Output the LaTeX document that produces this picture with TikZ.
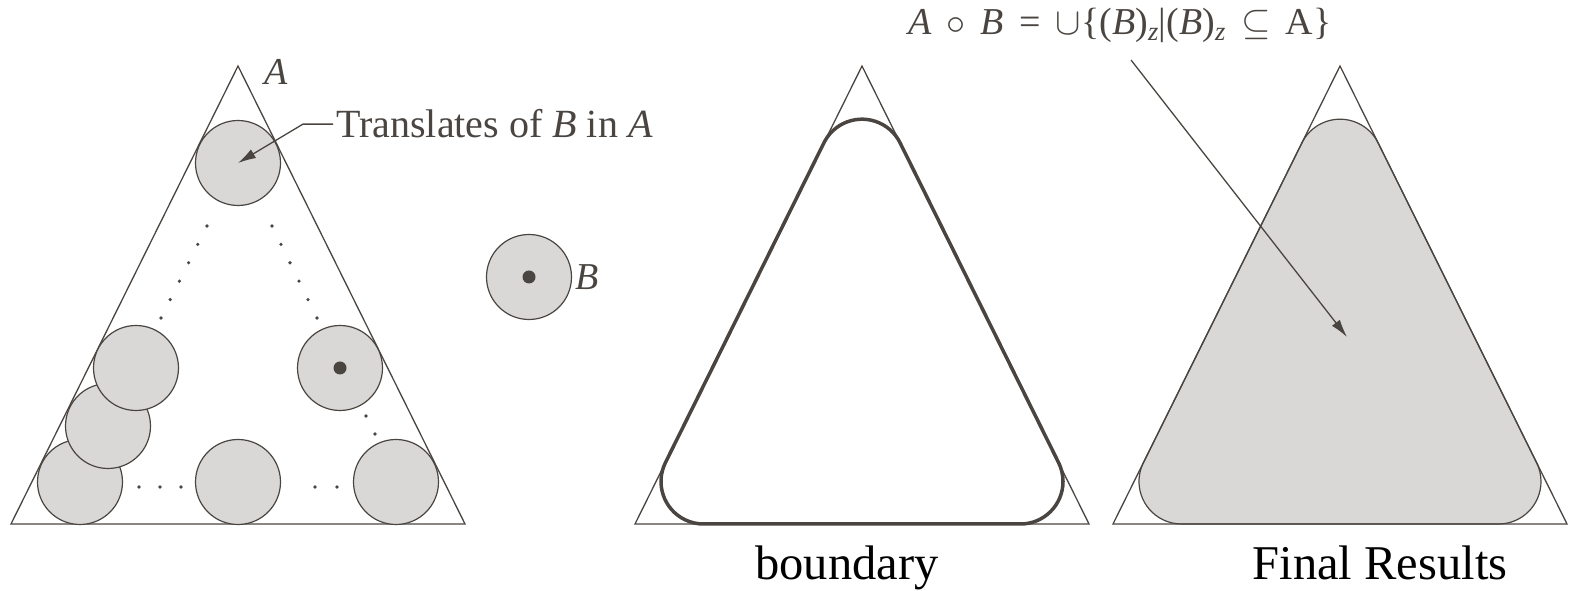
\RequirePackage{fix-cm}
\documentclass[tikz,border=0pt]{standalone}
\usepackage{fontspec}
\setmainfont{Liberation Serif}
\usepackage{tikz}
\usetikzlibrary{arrows.meta, calc}
\definecolor{ink}{HTML}{4A4541}
\definecolor{shade}{HTML}{D9D8D6}

\begin{document}
\begin{tikzpicture}[x=1pt, y=1pt,
  edge/.style={draw=ink, line width=1.3pt},
  disk/.style={circle, draw=ink, fill=shade, line width=1.2pt,
               minimum size=85pt, inner sep=0pt},
  lbl/.style={font=\itshape\fontsize{38}{44}\selectfont, text=ink},
  captxt/.style={anchor=base, font=\fontsize{48.5}{56}\selectfont},
  ar/.style={-{Latex[length=18pt, width=10pt]}, draw=ink, line width=1.3pt}]
\useasboundingbox (0,0) rectangle (1569,591);

% set A and translates of B
\draw[edge] (11,67) -- (238,525) -- (465,67) -- cycle;
\node[disk] (bl) at (80,109) {};
\node[disk] (ll) at (108,165) {};
\node[disk] (lm) at (136,223) {};
\node[disk] (tp) at (238,428) {};
\node[disk] (rm) at (340,223) {};
\node[disk] (bm) at (238,109) {};
\node[disk] (br) at (396,109) {};
\fill[ink] (rm) circle[radius=6.5];
\foreach \i in {0,...,5} {
  \fill[ink] (207-9.2*\i, 365-18.4*\i) circle[radius=1.8];
  \fill[ink] (272+9*\i, 365-18.4*\i) circle[radius=1.8];
}
\foreach \p in {(366,175),(375,157),(139,104),(160,104),(181,104),(315,104),(337,104)}
  \fill[ink] \p circle[radius=1.8];
\node[lbl] (la) at (276,519) {A};
\node[anchor=base west, inner sep=3pt, text=ink,
      font=\fontsize{40}{48}\selectfont] (tr) at (333,453) {Translates of \textit{B} in \textit{A}};
\draw[ar] (tr.west) -- ++(-30,0) -- (tp.center);

% structuring element B
\node[disk] (se) at (529,314) {};
\fill[ink] (se) circle[radius=6.5];
\node[lbl, anchor=west] (lb) at (se.east) {B};

% boundary of the opening
\draw[edge] (635,67) -- (862,525) -- (1089,67) -- cycle;
\coordinate (u1) at (862,429.3);
\coordinate (u2) at (703.5,109.5);
\coordinate (u3) at (1020.5,109.5);
\draw[ink, line width=3.5pt] ($(u1)+(26.36:42.5)$) arc[start angle=26.36, end angle=153.64, radius=42.5]
  -- ($(u2)+(153.64:42.5)$) arc[start angle=153.64, end angle=270, radius=42.5]
  -- ($(u3)+(270:42.5)$) arc[start angle=270, end angle=386.36, radius=42.5] -- cycle;
\node[captxt] (cb) at (847,11) {boundary};

% result of the opening
\coordinate (v1) at (1340,429.3);
\coordinate (v2) at (1181.5,109.5);
\coordinate (v3) at (1498.5,109.5);
\filldraw[fill=shade, draw=ink, line width=1.2pt] ($(v1)+(26.36:42.5)$) arc[start angle=26.36, end angle=153.64, radius=42.5]
  -- ($(v2)+(153.64:42.5)$) arc[start angle=153.64, end angle=270, radius=42.5]
  -- ($(v3)+(270:42.5)$) arc[start angle=270, end angle=386.36, radius=42.5] -- cycle;
\draw[edge] (1113,67) -- (1340,525) -- (1567,67) -- cycle;
\node[captxt] (cr) at (1380,11) {Final Results};
\node[anchor=base west, inner sep=0pt, text=ink,
      font=\fontsize{38}{44}\selectfont] (eq) at (908,556)
  {\textit{A}\hspace{0.4em}$\circ$\hspace{0.4em}\textit{B}\hspace{0.4em}=\hspace{0.4em}$\cup$\{(\textit{B})\textsubscript{\textit{z}}|(\textit{B})\textsubscript{\textit{z}}\hspace{0.4em}$\subseteq$\hspace{0.4em}A\}};
\coordinate (qs) at (1131,531);
\coordinate (qe) at (1347,254);
\draw[ar] (qs) -- (qe);
\end{tikzpicture}
\end{document}
